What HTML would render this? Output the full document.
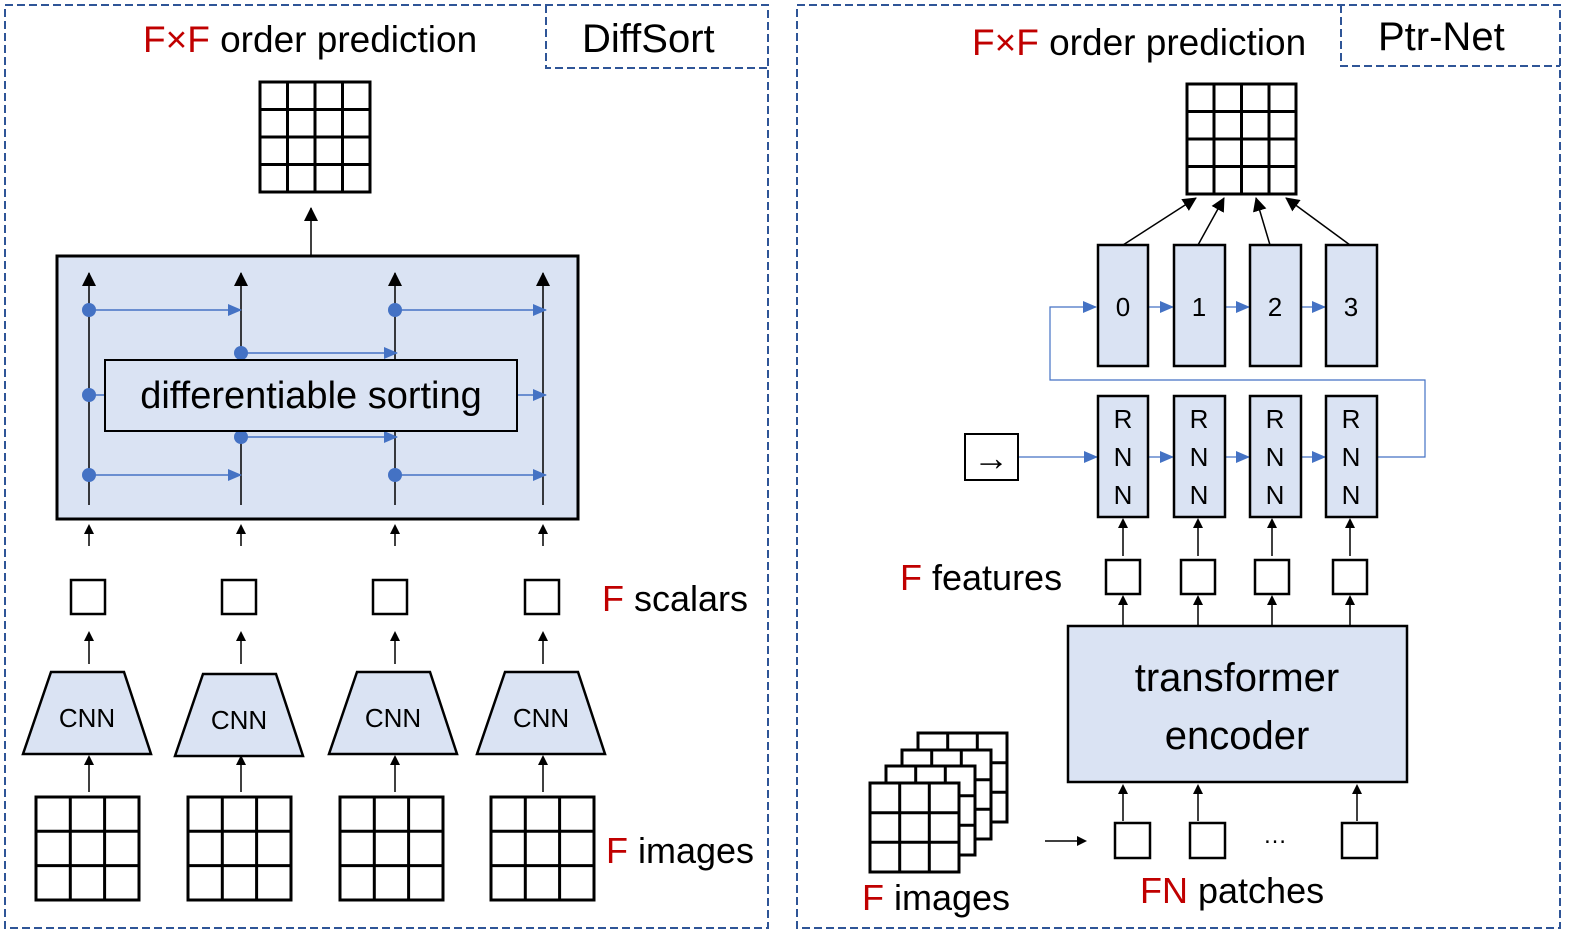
<!DOCTYPE html>
<html><head><meta charset="utf-8"><style>
body{margin:0;background:#fff}
text{font-family:"Liberation Sans","DejaVu Sans",sans-serif}
</style></head><body>
<svg width="1580" height="940" xmlns="http://www.w3.org/2000/svg">
<defs>
<marker id="ak" markerWidth="10" markerHeight="10" refX="8" refY="5" orient="auto" markerUnits="userSpaceOnUse"><path d="M0,0 L10,5 L0,10z" fill="#000"/></marker>
<marker id="ab" markerWidth="14" markerHeight="12" refX="13" refY="6" orient="auto" markerUnits="userSpaceOnUse"><path d="M0,0 L14,6 L0,12z" fill="#4472c4"/></marker>
<marker id="ak2" markerWidth="14" markerHeight="14" refX="13" refY="7" orient="auto" markerUnits="userSpaceOnUse"><path d="M0,0 L14,7 L0,14z" fill="#000"/></marker>
</defs>
<g fill="none" stroke="#2f5597" stroke-width="2" stroke-dasharray="8,4">
<rect x="5" y="5" width="763" height="923"/>
<path d="M546,5 V68 H768"/>
<rect x="797" y="5" width="763" height="923"/>
<path d="M1341,5 V66 H1560"/>
</g>
<g font-size="37">
<text x="143" y="52"><tspan fill="#c00000">F×F</tspan> order prediction</text>
<text x="972" y="55"><tspan fill="#c00000">F×F</tspan> order prediction</text>
</g>
<g font-size="40">
<text x="582" y="52">DiffSort</text>
<text x="1378" y="50">Ptr-Net</text>
</g>
<g font-size="36">
<text x="602" y="611"><tspan fill="#c00000">F</tspan> scalars</text>
<text x="606" y="863"><tspan fill="#c00000">F</tspan> images</text>
<text x="900" y="590"><tspan fill="#c00000">F</tspan> features</text>
<text x="862" y="910"><tspan fill="#c00000">F</tspan> images</text>
<text x="1140" y="903"><tspan fill="#c00000">FN</tspan> patches</text>
</g>
<g stroke="#000" stroke-width="3" fill="#fff">
<rect x="260" y="82" width="110" height="110"/>
<path d="M287.5,82V192M315,82V192M342.5,82V192M260,109.5H370M260,137H370M260,164.5H370" fill="none"/>
<rect x="1187" y="84" width="109" height="110"/>
<path d="M1214,84V194M1241.5,84V194M1269,84V194M1187,111.5H1296M1187,139H1296M1187,166.5H1296" fill="none"/>
</g>
<line x1="311" y1="257" x2="311" y2="208" stroke="#000" stroke-width="1.5" marker-end="url(#ak2)"/>
<rect x="57" y="256" width="521" height="263" fill="#dae3f3" stroke="#000" stroke-width="3"/>
<g stroke="#000" stroke-width="1.5">
<line x1="89" y1="505" x2="89" y2="273" marker-end="url(#ak2)"/>
<line x1="241" y1="505" x2="241" y2="273" marker-end="url(#ak2)"/>
<line x1="395" y1="505" x2="395" y2="273" marker-end="url(#ak2)"/>
<line x1="543" y1="505" x2="543" y2="273" marker-end="url(#ak2)"/>
</g>
<g stroke="#4472c4" stroke-width="1.5">
<line x1="89" y1="310" x2="241" y2="310" marker-end="url(#ab)"/>
<line x1="395" y1="310" x2="546" y2="310" marker-end="url(#ab)"/>
<line x1="241" y1="353" x2="397" y2="353" marker-end="url(#ab)"/>
<line x1="89" y1="395" x2="546" y2="395" marker-end="url(#ab)"/>
<line x1="241" y1="437" x2="397" y2="437" marker-end="url(#ab)"/>
<line x1="89" y1="475" x2="241" y2="475" marker-end="url(#ab)"/>
<line x1="395" y1="475" x2="546" y2="475" marker-end="url(#ab)"/>
</g>
<g fill="#4472c4">
<circle cx="89" cy="310" r="7"/><circle cx="395" cy="310" r="7"/><circle cx="241" cy="353" r="7"/>
<circle cx="89" cy="395" r="7"/><circle cx="241" cy="437" r="7"/><circle cx="89" cy="475" r="7"/><circle cx="395" cy="475" r="7"/>
</g>
<rect x="105" y="360" width="412" height="71" fill="#dae3f3" stroke="#000" stroke-width="2"/>
<text x="311" y="408" font-size="38" text-anchor="middle">differentiable sorting</text>
<g stroke="#000" stroke-width="1.5">
<line x1="89" y1="546" x2="89" y2="526" marker-end="url(#ak)"/><line x1="241" y1="546" x2="241" y2="526" marker-end="url(#ak)"/><line x1="395" y1="546" x2="395" y2="526" marker-end="url(#ak)"/><line x1="543" y1="546" x2="543" y2="526" marker-end="url(#ak)"/>
<line x1="89" y1="664" x2="89" y2="633" marker-end="url(#ak)"/><line x1="241" y1="664" x2="241" y2="633" marker-end="url(#ak)"/><line x1="395" y1="664" x2="395" y2="633" marker-end="url(#ak)"/><line x1="543" y1="664" x2="543" y2="633" marker-end="url(#ak)"/>
<line x1="89" y1="792" x2="89" y2="757" marker-end="url(#ak)"/><line x1="241" y1="792" x2="241" y2="757" marker-end="url(#ak)"/><line x1="395" y1="792" x2="395" y2="757" marker-end="url(#ak)"/><line x1="543" y1="792" x2="543" y2="757" marker-end="url(#ak)"/>
</g>
<g stroke="#000" stroke-width="2.5" fill="#fff">
<rect x="71" y="580" width="34" height="34"/><rect x="222" y="580" width="34" height="34"/><rect x="373" y="580" width="34" height="34"/><rect x="525" y="580" width="34" height="34"/>
</g>
<g stroke="#000" stroke-width="2.5" fill="#dae3f3">
<path d="M51,672H124L151,754H23Z"/><path d="M203,674H276L303,756H175Z"/><path d="M357,672H430L457,754H329Z"/><path d="M505,672H578L605,754H477Z"/>
</g>
<g font-size="26" text-anchor="middle">
<text x="87" y="727">CNN</text><text x="239" y="729">CNN</text><text x="393" y="727">CNN</text><text x="541" y="727">CNN</text>
</g>
<g stroke="#000" stroke-width="3" fill="#fff">
<g><rect x="36" y="797" width="103" height="103"/><path d="M70.3,797V900M104.6,797V900M36,831.3H139M36,865.6H139" fill="none"/></g>
<g transform="translate(152,0)"><rect x="36" y="797" width="103" height="103"/><path d="M70.3,797V900M104.6,797V900M36,831.3H139M36,865.6H139" fill="none"/></g>
<g transform="translate(304,0)"><rect x="36" y="797" width="103" height="103"/><path d="M70.3,797V900M104.6,797V900M36,831.3H139M36,865.6H139" fill="none"/></g>
<g transform="translate(455,0)"><rect x="36" y="797" width="103" height="103"/><path d="M70.3,797V900M104.6,797V900M36,831.3H139M36,865.6H139" fill="none"/></g>
</g>
<g stroke="#000" stroke-width="1.5">
<line x1="1123" y1="245" x2="1196" y2="198" marker-end="url(#ak2)"/>
<line x1="1198" y1="245" x2="1224" y2="198" marker-end="url(#ak2)"/>
<line x1="1270" y1="245" x2="1256" y2="198" marker-end="url(#ak2)"/>
<line x1="1350" y1="245" x2="1286" y2="198" marker-end="url(#ak2)"/>
</g>
<g stroke="#4472c4" stroke-width="1.2" fill="none">
<path d="M1377,457H1425V380H1050V307H1096" marker-end="url(#ab)"/>
<line x1="1018" y1="457" x2="1097" y2="457" marker-end="url(#ab)"/>
<line x1="1148" y1="307" x2="1173" y2="307" marker-end="url(#ab)"/><line x1="1225" y1="307" x2="1249" y2="307" marker-end="url(#ab)"/><line x1="1301" y1="307" x2="1325" y2="307" marker-end="url(#ab)"/>
<line x1="1148" y1="457" x2="1173" y2="457" marker-end="url(#ab)"/><line x1="1225" y1="457" x2="1249" y2="457" marker-end="url(#ab)"/><line x1="1301" y1="457" x2="1325" y2="457" marker-end="url(#ab)"/>
</g>
<g stroke="#000" stroke-width="2.5" fill="#dae3f3">
<rect x="1098" y="245" width="50" height="121"/><rect x="1174" y="245" width="51" height="121"/><rect x="1250" y="245" width="51" height="121"/><rect x="1326" y="245" width="51" height="121"/>
<rect x="1098" y="396" width="50" height="121"/><rect x="1174" y="396" width="51" height="121"/><rect x="1250" y="396" width="51" height="121"/><rect x="1326" y="396" width="51" height="121"/>
<rect x="1068" y="626" width="339" height="156"/>
</g>
<rect x="965" y="434" width="53" height="46" fill="#fff" stroke="#000" stroke-width="2"/>
<text x="991" y="470" font-size="36" text-anchor="middle">→</text>
<g font-size="26" text-anchor="middle">
<text x="1123" y="316">0</text><text x="1199" y="316">1</text><text x="1275" y="316">2</text><text x="1351" y="316">3</text>
<text x="1123" y="428">R</text><text x="1123" y="466">N</text><text x="1123" y="504">N</text>
<text x="1199" y="428">R</text><text x="1199" y="466">N</text><text x="1199" y="504">N</text>
<text x="1275" y="428">R</text><text x="1275" y="466">N</text><text x="1275" y="504">N</text>
<text x="1351" y="428">R</text><text x="1351" y="466">N</text><text x="1351" y="504">N</text>
</g>
<text x="1237" y="691" font-size="40" text-anchor="middle">transformer</text>
<text x="1237" y="749" font-size="40" text-anchor="middle">encoder</text>
<g stroke="#000" stroke-width="1.5">
<line x1="1123" y1="556" x2="1123" y2="520" marker-end="url(#ak)"/><line x1="1198" y1="556" x2="1198" y2="520" marker-end="url(#ak)"/><line x1="1272" y1="556" x2="1272" y2="520" marker-end="url(#ak)"/><line x1="1350" y1="556" x2="1350" y2="520" marker-end="url(#ak)"/>
<line x1="1123" y1="626" x2="1123" y2="597" marker-end="url(#ak)"/><line x1="1198" y1="626" x2="1198" y2="597" marker-end="url(#ak)"/><line x1="1272" y1="626" x2="1272" y2="597" marker-end="url(#ak)"/><line x1="1350" y1="626" x2="1350" y2="597" marker-end="url(#ak)"/>
<line x1="1123" y1="821" x2="1123" y2="786" marker-end="url(#ak)"/><line x1="1198" y1="821" x2="1198" y2="786" marker-end="url(#ak)"/><line x1="1357" y1="821" x2="1357" y2="786" marker-end="url(#ak)"/>
<line x1="1045" y1="841" x2="1085" y2="841" marker-end="url(#ak)"/>
</g>
<g stroke="#000" stroke-width="2.5" fill="#fff">
<rect x="1106" y="560" width="34" height="34"/><rect x="1181" y="560" width="34" height="34"/><rect x="1255" y="560" width="34" height="34"/><rect x="1333" y="560" width="34" height="34"/>
<rect x="1115" y="823" width="35" height="35"/><rect x="1190" y="823" width="35" height="35"/><rect x="1342" y="823" width="35" height="35"/>
</g>
<text x="1275" y="843" font-size="24" text-anchor="middle">…</text>
<g stroke="#000" stroke-width="3" fill="#fff">
<g transform="translate(48,-50)"><rect x="870" y="783" width="89" height="89"/><path d="M899.7,783V872M929.3,783V872M870,812.7H959M870,842.3H959" fill="none"/></g>
<g transform="translate(32,-33)"><rect x="870" y="783" width="89" height="89"/><path d="M899.7,783V872M929.3,783V872M870,812.7H959M870,842.3H959" fill="none"/></g>
<g transform="translate(16,-17)"><rect x="870" y="783" width="89" height="89"/><path d="M899.7,783V872M929.3,783V872M870,812.7H959M870,842.3H959" fill="none"/></g>
<g><rect x="870" y="783" width="89" height="89"/><path d="M899.7,783V872M929.3,783V872M870,812.7H959M870,842.3H959" fill="none"/></g>
</g>
</svg>
</body></html>
